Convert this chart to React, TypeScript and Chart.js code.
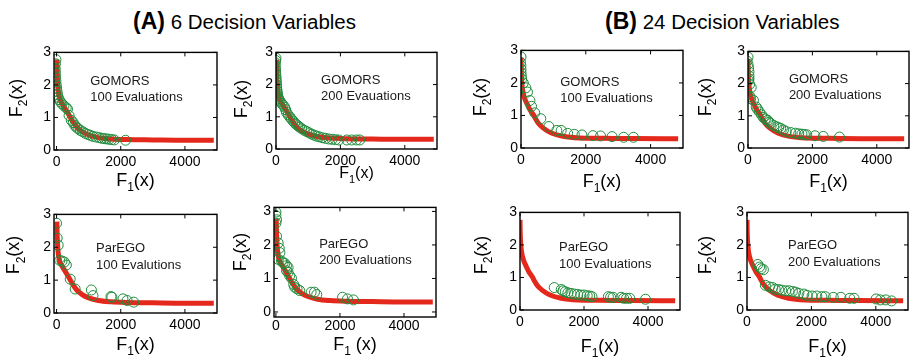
import React, { useEffect, useRef } from "react";
import { Chart, registerables } from "chart.js";
Chart.register(...registerables);

const FONT = '"Liberation Sans", Arial, Helvetica, sans-serif';
const RED = "rgb(228, 40, 28)";
const GREEN = "rgb(32, 140, 60)";

const X_TICKS = [0, 2000, 4000];
const Y_TICKS = [0, 1, 2, 3];

// Pareto fronts (red curves)
const FRONT6_X = [10, 15, 25, 40, 60, 90, 130, 200, 300, 400, 500, 630, 800, 1000, 1300, 1700, 2200, 3000, 4000, 4900];
const FRONT6_Y = [2.78, 2.5, 2.2, 1.95, 1.75, 1.6, 1.5, 1.38, 1.22, 1.05, 0.88, 0.7, 0.56, 0.46, 0.38, 0.34, 0.32, 0.31, 0.3, 0.3];
const FRONT24_X = [0, 5, 15, 35, 60, 90, 130, 180, 280, 385, 460, 535, 690, 940, 1290, 1800, 2500, 3500, 4850];
const FRONT24_Y = [2.77, 2.45, 2.15, 1.9, 1.72, 1.6, 1.48, 1.37, 1.17, 1.02, 0.88, 0.76, 0.61, 0.46, 0.36, 0.31, 0.3, 0.29, 0.285];

// (A) GOMORS 100
const P1_X = [-20, -35, -40, -35, -30, -20, -10, 0, 15, 30, 50, 80, 120, 170, 230, 300, 340, 390, 460, 520, 565, 620, 670, 740, 820, 900, 975, 1050, 1130, 1230, 1330, 1410, 1490, 1560, 1640, 1720, 1800, 2150];
const P1_Y = [2.78, 2.65, 2.5, 2.38, 2.25, 2.12, 2.0, 1.9, 1.8, 1.7, 1.62, 1.55, 1.48, 1.42, 1.36, 1.3, 1.26, 1.06, 0.91, 0.84, 0.76, 0.7, 0.66, 0.6, 0.56, 0.51, 0.48, 0.45, 0.42, 0.4, 0.38, 0.36, 0.35, 0.34, 0.33, 0.32, 0.31, 0.3];
// (A) GOMORS 200
const P2_X = [0, -10, -20, -25, -20, -15, -10, -5, 0, 5, 10, 15, 20, 25, 30, 40, 50, 60, 80, 100, 130, 170, 220, 270, 300, 325, 380, 430, 480, 530, 580, 630, 680, 730, 800, 880, 960, 1035, 1110, 1190, 1260, 1340, 1440, 1540, 1640, 1745, 1850, 1950, 2200, 2350, 2500, 2600];
const P2_Y = [2.82, 2.75, 2.68, 2.6, 2.52, 2.45, 2.38, 2.3, 2.22, 2.15, 2.08, 2.0, 1.93, 1.86, 1.8, 1.74, 1.68, 1.62, 1.57, 1.52, 1.48, 1.42, 1.36, 1.3, 1.22, 1.14, 1.06, 0.99, 0.93, 0.87, 0.81, 0.76, 0.72, 0.68, 0.63, 0.58, 0.54, 0.5, 0.46, 0.43, 0.4, 0.38, 0.35, 0.33, 0.31, 0.3, 0.29, 0.28, 0.28, 0.28, 0.28, 0.28];
// (B) GOMORS 100
const P3_X = [0, -15, -5, 0, 0, 10, 20, 70, 150, 200, 275, 325, 425, 610, 860, 1105, 1240, 1440, 1645, 1880, 2220, 2455, 2810, 3170, 3470];
const P3_Y = [2.8, 2.63, 2.53, 2.42, 2.32, 2.22, 2.12, 2.0, 1.85, 1.72, 1.46, 1.28, 1.08, 0.9, 0.66, 0.54, 0.54, 0.45, 0.42, 0.4, 0.38, 0.37, 0.35, 0.33, 0.33];
// (B) GOMORS 200
const P4_X = [0, -30, 0, 20, 30, 30, 30, 20, 50, 100, 60, 80, 170, 255, 300, 355, 420, 475, 540, 610, 660, 710, 800, 885, 950, 1015, 1100, 1190, 1330, 1470, 1575, 1675, 1750, 1825, 2080, 2335, 2840];
const P4_Y = [2.82, 2.7, 2.6, 2.49, 2.37, 2.24, 2.15, 2.09, 1.98, 1.88, 1.6, 1.53, 1.48, 1.27, 1.2, 1.12, 1.03, 0.95, 0.9, 0.86, 0.8, 0.76, 0.7, 0.66, 0.63, 0.61, 0.56, 0.51, 0.48, 0.46, 0.44, 0.43, 0.42, 0.41, 0.38, 0.36, 0.34];
// (A) ParEGO 100
const P5_X = [0, 20, 50, 100, 170, 245, 305, 425, 580, 1085, 1135, 1695, 1725, 2070, 2200, 2405];
const P5_Y = [2.73, 2.28, 2.06, 1.6, 1.58, 1.55, 1.46, 1.03, 0.73, 0.7, 0.53, 0.5, 0.48, 0.43, 0.38, 0.33];
// (A) ParEGO 200
const P6_X = [0, 0, 20, 0, 20, 70, 105, 125, 70, 175, 225, 280, 330, 380, 330, 380, 430, 485, 555, 585, 660, 740, 1100, 1205, 1275, 2080, 2235, 2420];
const P6_Y = [2.98, 2.88, 2.75, 2.65, 2.26, 2.06, 1.9, 1.77, 1.57, 1.52, 1.47, 1.45, 1.38, 1.33, 1.23, 1.18, 1.08, 1.01, 0.82, 0.74, 0.69, 0.64, 0.59, 0.59, 0.52, 0.44, 0.39, 0.36];
// (B) ParEGO 100
const P7_X = [1070, 1290, 1345, 1415, 1495, 1595, 1700, 1800, 1900, 2000, 2100, 2180, 2250, 2760, 2830, 2910, 3160, 3240, 3330, 3430, 3920];
const P7_Y = [0.69, 0.63, 0.59, 0.56, 0.53, 0.51, 0.49, 0.48, 0.46, 0.46, 0.44, 0.43, 0.41, 0.41, 0.39, 0.39, 0.39, 0.36, 0.36, 0.36, 0.33];
// (B) ParEGO 200
const P8_X = [335, 390, 440, 510, 570, 695, 795, 875, 980, 1080, 1200, 1305, 1410, 1510, 1610, 1765, 1865, 2020, 2170, 2325, 2430, 2680, 2915, 3190, 3325, 4010, 4140, 4310, 4490];
const P8_Y = [1.4, 1.32, 1.27, 1.24, 0.76, 0.71, 0.69, 0.64, 0.63, 0.61, 0.59, 0.59, 0.57, 0.55, 0.51, 0.49, 0.45, 0.43, 0.43, 0.41, 0.41, 0.39, 0.39, 0.36, 0.36, 0.34, 0.31, 0.31, 0.28];

type PanelCfg = {
  box: [number, number, number, number];
  xMin: number; xMax: number; yMin: number; yMax: number;
  fx: number[]; fy: number[]; px: number[]; py: number[];
  text: [string, string]; ann: [number, number];
  yT: [number, number]; xTBase: number; xSuffix: string; xSize: number; xPad: number;
};

const PANELS: PanelCfg[] = [
  { box: [54, 51, 220, 150], xMin: -80, xMax: 5000, yMin: 0, yMax: 3, fx: FRONT6_X, fy: FRONT6_Y, px: P1_X, py: P1_Y, text: ["GOMORS", "100 Evaluations"], ann: [1050, 2.12], yT: [21.5, 98], xTBase: 185.5, xSuffix: "(x)", xSize: 18, xPad: 4 },
  { box: [276, 51, 440, 149], xMin: 0, xMax: 5000, yMin: 0, yMax: 3, fx: FRONT6_X, fy: FRONT6_Y, px: P2_X, py: P2_Y, text: ["GOMORS", "200 Evauations"], ann: [1400, 2.14], yT: [246.7, 99], xTBase: 178, xSuffix: "(x)", xSize: 16, xPad: 4 },
  { box: [521, 49, 686, 148], xMin: 0, xMax: 5000, yMin: 0, yMax: 3, fx: FRONT24_X, fy: FRONT24_Y, px: P3_X, py: P3_Y, text: ["GOMORS", "100 Evaluations"], ann: [1210, 2.03], yT: [486, 97], xTBase: 187, xSuffix: "(x)", xSize: 18, xPad: 4 },
  { box: [748, 50, 912, 148], xMin: 0, xMax: 5000, yMin: 0, yMax: 3, fx: FRONT24_X, fy: FRONT24_Y, px: P4_X, py: P4_Y, text: ["GOMORS", "200 Evaluations"], ann: [1270, 2.13], yT: [710.7, 97], xTBase: 187, xSuffix: "(x)", xSize: 18, xPad: 4 },
  { box: [54, 213, 220, 313], xMin: -80, xMax: 5000, yMin: 0, yMax: 3, fx: FRONT6_X, fy: FRONT6_Y, px: P5_X, py: P5_Y, text: ["ParEGO", "100 Evalutions"], ann: [1230, 1.95], yT: [19.3, 255], xTBase: 350, xSuffix: "(x)", xSize: 18, xPad: 4 },
  { box: [274, 206, 439, 317], xMin: -60, xMax: 5000, yMin: -0.15, yMax: 3.12, fx: FRONT6_X, fy: FRONT6_Y, px: P6_X, py: P6_Y, text: ["ParEGO", "200 Evaluations"], ann: [1350, 2.03], yT: [246, 252], xTBase: 350, xSuffix: " (x)", xSize: 18, xPad: 1 },
  { box: [520, 211, 683, 310], xMin: 0, xMax: 5000, yMin: 0, yMax: 3, fx: FRONT24_X, fy: FRONT24_Y, px: P7_X, py: P7_Y, text: ["ParEGO", "100 Evaluations"], ann: [1220, 1.92], yT: [486.7, 255], xTBase: 352, xSuffix: "(x)", xSize: 18, xPad: 4 },
  { box: [747, 211, 911, 310], xMin: 0, xMax: 5000, yMin: 0, yMax: 3, fx: FRONT24_X, fy: FRONT24_Y, px: P8_X, py: P8_Y, text: ["ParEGO", "200 Evaluations"], ann: [1275, 1.98], yT: [710.7, 255], xTBase: 352, xSuffix: "(x)", xSize: 18, xPad: 4 },
];

const YW = 56, PT = 10, PR = 3, XH = 52;

function drawFx(ctx: CanvasRenderingContext2D, sub: string, suffix: string, size: number) {
  const big = `${size}px ${FONT}`;
  const small = `${Math.round(size * 0.68)}px ${FONT}`;
  ctx.font = big;
  const wF = ctx.measureText("F").width;
  const wS = ctx.measureText(suffix).width;
  ctx.font = small;
  const w1 = ctx.measureText(sub).width;
  const x0 = -(wF + w1 + wS) / 2;
  ctx.textAlign = "left";
  ctx.textBaseline = "alphabetic";
  ctx.font = big;
  ctx.fillText("F", x0, 0);
  ctx.font = small;
  ctx.fillText(sub, x0 + wF, size * 0.3);
  ctx.font = big;
  ctx.fillText(suffix, x0 + wF + w1, 0);
}

function makePlugin(p: PanelCfg) {
  return {
    id: "decor",
    afterDatasetsDraw(chart: any) {
      const { ctx, chartArea: a } = chart;
      const xs = chart.scales.x, ys = chart.scales.y;
      const ox = p.box[0] - YW, oy = p.box[1] - PT;
      ctx.save();
      ctx.strokeStyle = "#000";
      ctx.lineWidth = 1.4;
      ctx.strokeRect(a.left, a.top, a.right - a.left, a.bottom - a.top);
      const TL = 4;
      ctx.beginPath();
      X_TICKS.forEach((v) => {
        const px = xs.getPixelForValue(v);
        ctx.moveTo(px, a.bottom); ctx.lineTo(px, a.bottom - TL);
        ctx.moveTo(px, a.top); ctx.lineTo(px, a.top + TL);
      });
      Y_TICKS.forEach((v) => {
        const py = ys.getPixelForValue(v);
        ctx.moveTo(a.left, py); ctx.lineTo(a.left + TL, py);
        ctx.moveTo(a.right, py); ctx.lineTo(a.right - TL, py);
      });
      ctx.lineWidth = 1;
      ctx.stroke();
      // annotation
      ctx.fillStyle = "#1a1a1a";
      ctx.font = `13px ${FONT}`;
      ctx.textAlign = "left";
      ctx.textBaseline = "middle";
      const ax = xs.getPixelForValue(p.ann[0]);
      const ay = ys.getPixelForValue(p.ann[1]);
      ctx.fillText(p.text[0], ax, ay);
      ctx.fillText(p.text[1], ax, ay + 16.5);
      // axis titles
      ctx.fillStyle = "#000";
      ctx.save();
      ctx.translate(p.yT[0] - ox, p.yT[1] - oy);
      ctx.rotate(-Math.PI / 2);
      drawFx(ctx, "2", "(x)", 18);
      ctx.restore();
      ctx.save();
      ctx.translate((a.left + a.right) / 2, p.xTBase - oy);
      drawFx(ctx, "1", p.xSuffix, p.xSize);
      ctx.restore();
      ctx.restore();
    },
  };
}

function Panel({ p }: { p: PanelCfg }) {
  const ref = useRef<HTMLCanvasElement>(null);
  const [l, t, r, b] = p.box;
  const w = r - l + YW + PR;
  const h = b - t + PT + XH;
  useEffect(() => {
    const tickFont = { family: FONT, size: 14 };
    const fmt = (v: any) => String(v);
    const chart = new Chart(ref.current as HTMLCanvasElement, {
      type: "scatter",
      data: {
        datasets: [
          {
            type: "scatter",
            data: p.px.map((x, i) => ({ x, y: p.py[i] })),
            pointStyle: "circle",
            pointRadius: 5,
            borderColor: GREEN,
            backgroundColor: "rgba(0,0,0,0)",
            borderWidth: 1,
            order: 0,
          } as any,
          {
            type: "line",
            data: p.fx.map((x, i) => ({ x, y: p.fy[i] })),
            borderColor: RED,
            backgroundColor: RED,
            borderWidth: 5,
            pointRadius: 0,
            fill: false,
            cubicInterpolationMode: "monotone",
            order: 1,
          } as any,
        ],
      },
      options: {
        animation: false,
        responsive: false,
        devicePixelRatio: 1,
        events: [],
        layout: { padding: { top: PT, right: PR, left: 0, bottom: 0 } },
        plugins: { legend: { display: false }, tooltip: { enabled: false }, title: { display: false } },
        scales: {
          x: {
            type: "linear",
            min: p.xMin,
            max: p.xMax,
            grid: { display: false, drawTicks: false },
            border: { display: false },
            ticks: { font: tickFont, color: "#000", padding: p.xPad, maxRotation: 0, autoSkip: false, callback: fmt },
            afterBuildTicks: (s: any) => { s.ticks = X_TICKS.map((v) => ({ value: v })); },
            afterFit: (s: any) => { s.height = XH; },
          },
          y: {
            type: "linear",
            min: p.yMin,
            max: p.yMax,
            grid: { display: false, drawTicks: false },
            border: { display: false },
            ticks: { font: tickFont, color: "#000", padding: 3, autoSkip: false, callback: fmt },
            afterBuildTicks: (s: any) => { s.ticks = Y_TICKS.map((v) => ({ value: v })); },
            afterFit: (s: any) => { s.width = YW; },
          },
        },
      } as any,
      plugins: [makePlugin(p)],
    });
    return () => chart.destroy();
  }, []);
  return (
    <canvas
      ref={ref}
      width={w}
      height={h}
      style={{ position: "absolute", left: l - YW, top: t - PT, width: w, height: h }}
    />
  );
}

export default function App() {
  return (
    <div
      style={{
        position: "fixed", left: 0, top: 0, width: 915, height: 363,
        background: "#fff", overflow: "hidden", fontFamily: FONT, color: "#000",
      }}
    >
      <div style={{ position: "absolute", left: 133, top: 7, fontSize: 20.5, lineHeight: "28px", whiteSpace: "nowrap" }}>
        <span style={{ fontWeight: "bold", fontSize: 23 }}>(A)</span> 6 Decision Variables
      </div>
      <div style={{ position: "absolute", left: 605, top: 7, fontSize: 20.5, lineHeight: "28px", whiteSpace: "nowrap" }}>
        <span style={{ fontWeight: "bold", fontSize: 23 }}>(B)</span> 24 Decision Variables
      </div>
      {PANELS.map((p, i) => (
        <Panel key={i} p={p} />
      ))}
    </div>
  );
}
